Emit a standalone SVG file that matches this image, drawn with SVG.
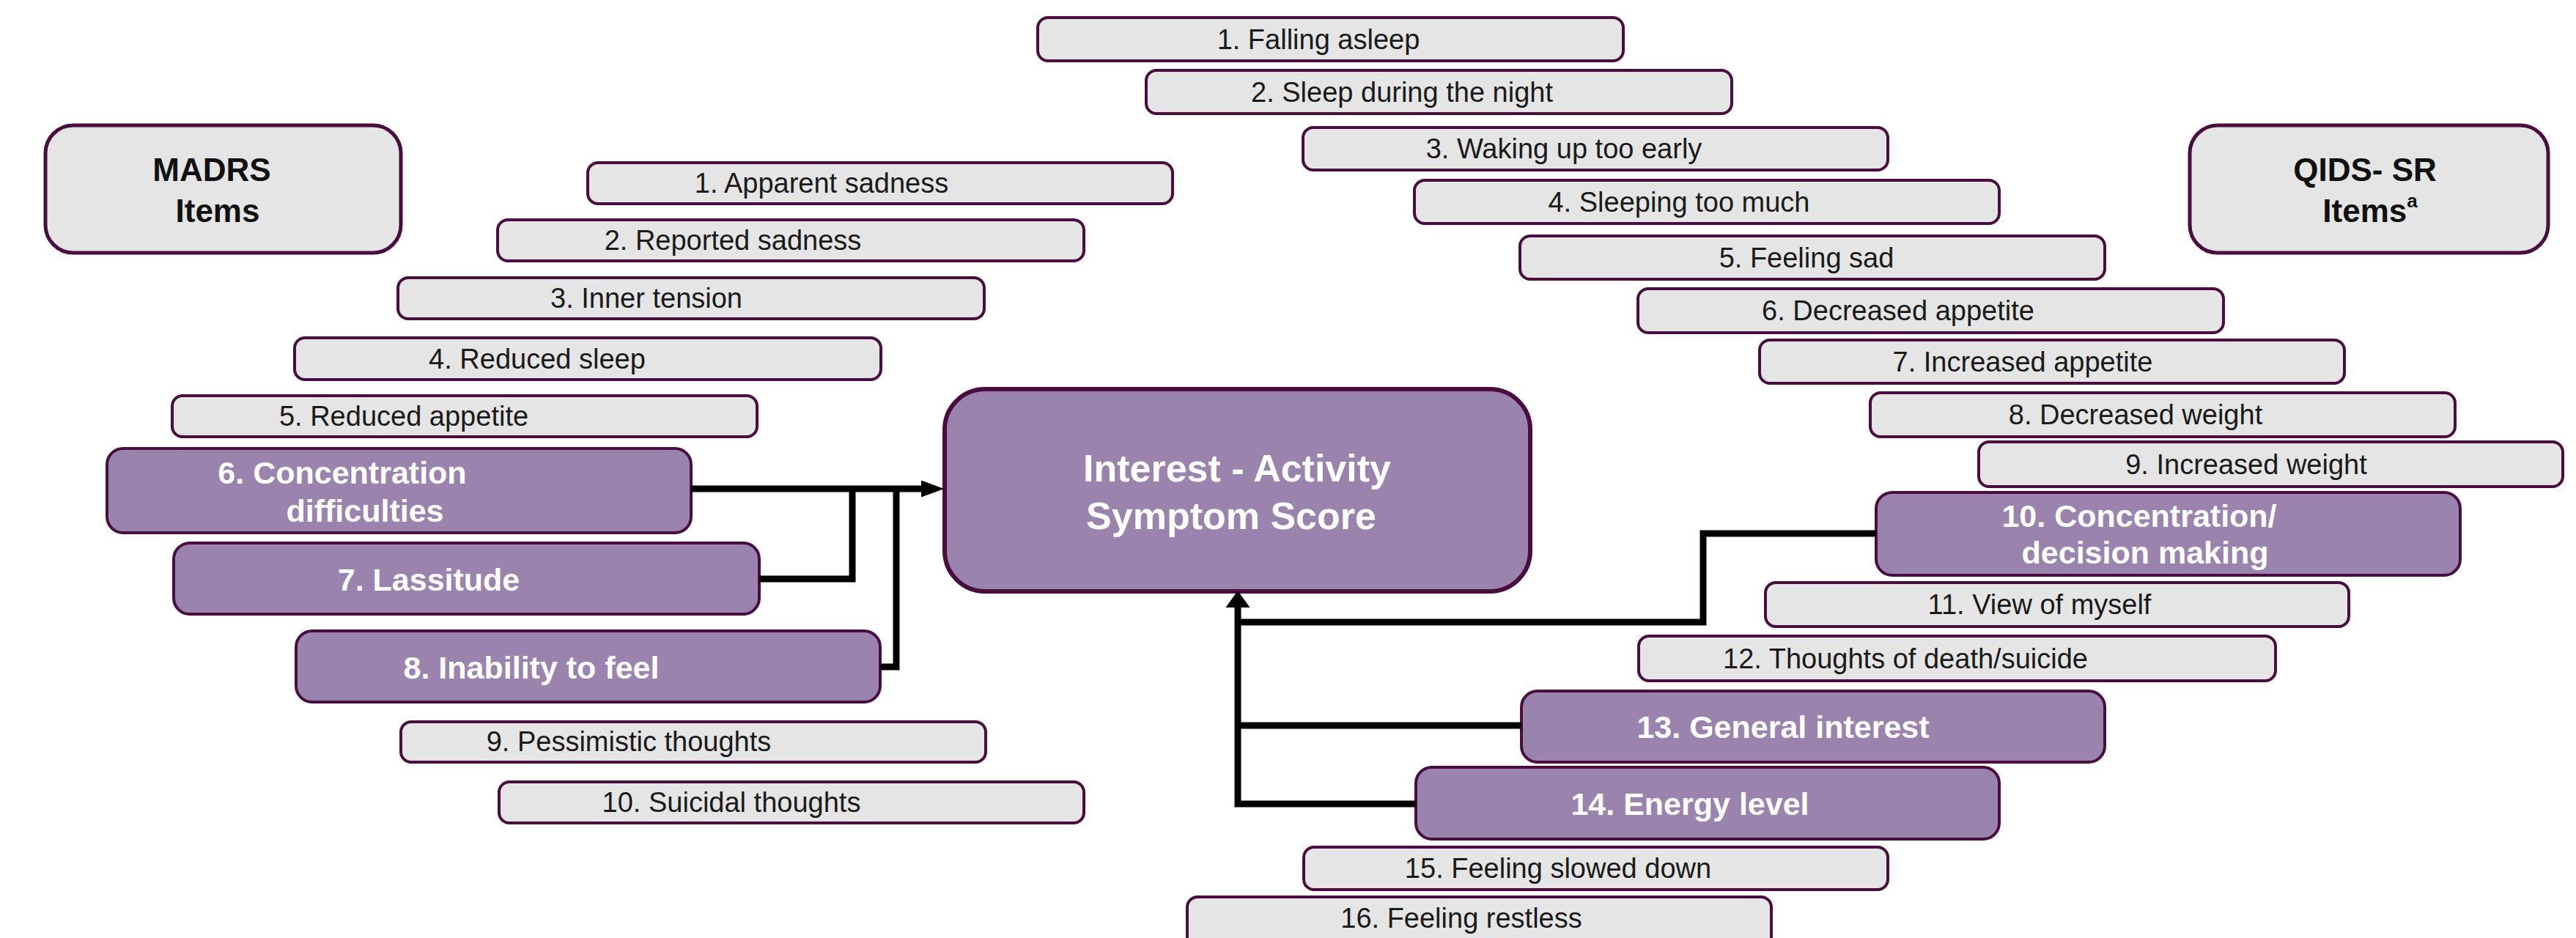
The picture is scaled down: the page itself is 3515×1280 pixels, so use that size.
<svg xmlns="http://www.w3.org/2000/svg" width="3515" height="1280" viewBox="0 0 3515 1280">
<style>
.g rect{fill:#e5e5e5;stroke:#4a0d3f;stroke-width:4}
.g text{font-family:"Liberation Sans",Arial,sans-serif;font-size:38px;fill:#1a1a1a;text-anchor:middle}
.p rect{fill:#9a84ae;stroke:#4a0d3f;stroke-width:4}
.p text{font-family:"Liberation Sans",Arial,sans-serif;font-size:43px;font-weight:bold;fill:#ffffff;text-anchor:middle}
.h rect{fill:#e5e5e5;stroke:#4a0d3f;stroke-width:5}
.h text{font-family:"Liberation Sans",Arial,sans-serif;font-size:44px;font-weight:bold;fill:#111111;text-anchor:middle}
.c rect{fill:#9a84ae;stroke:#4a0d3f;stroke-width:6}
.c text{font-family:"Liberation Sans",Arial,sans-serif;font-size:52px;font-weight:bold;fill:#ffffff;text-anchor:middle}
.conn path{fill:none;stroke:#000000;stroke-width:9;stroke-linejoin:miter}
</style>
<defs>
<marker id="arrR" markerUnits="userSpaceOnUse" markerWidth="31" markerHeight="23" refX="0" refY="11.5" orient="auto" viewBox="0 0 31 23">
<path d="M0,0 L31,11.5 L0,23 z" fill="#000"/>
</marker>
<marker id="arrU" markerUnits="userSpaceOnUse" markerWidth="23" markerHeight="33" refX="0" refY="16.5" orient="auto" viewBox="0 0 23 33">
<path d="M0,0 L23,16.5 L0,33 z" fill="#000"/>
</marker>
</defs>

<g id="madrs-header" class="h">
<rect x="62" y="171" width="485" height="174" rx="38"/>
<text x="289" y="247">MADRS</text>
<text x="297" y="303">Items</text>
</g>
<g id="qids-header" class="h">
<rect x="2988" y="171" width="489" height="174" rx="38"/>
<text x="3227" y="247">QIDS- SR</text>
<text x="3234" y="303">Items<tspan font-size="26" dy="-20">a</tspan></text>
</g>

<g id="central" class="c">
<rect x="1289" y="531" width="799" height="276" rx="55"/>
<text x="1688" y="657">Interest - Activity</text>
<text x="1680" y="722">Symptom Score</text>
</g>

<g id="madrs-1" class="g"><rect x="802" y="222" width="798" height="56" rx="14"/><text x="1121" y="263">1. Apparent sadness</text></g>
<g id="madrs-2" class="g"><rect x="679" y="300" width="800" height="56" rx="14"/><text x="1000" y="341">2. Reported sadness</text></g>
<g id="madrs-3" class="g"><rect x="543" y="379" width="800" height="56" rx="14"/><text x="882" y="420">3. Inner tension</text></g>
<g id="madrs-4" class="g"><rect x="402" y="461" width="800" height="57" rx="14"/><text x="733" y="503">4. Reduced sleep</text></g>
<g id="madrs-5" class="g"><rect x="235" y="540" width="798" height="56" rx="14"/><text x="551" y="581">5. Reduced appetite</text></g>
<g id="madrs-6" class="p"><rect x="146" y="612" width="797" height="115" rx="22"/><text x="467" y="660">6. Concentration</text><text x="498" y="712">difficulties</text></g>
<g id="madrs-7" class="p"><rect x="237" y="741" width="799" height="97" rx="22"/><text x="585" y="806">7. Lassitude</text></g>
<g id="madrs-8" class="p"><rect x="404" y="861" width="797" height="97" rx="22"/><text x="725" y="926">8. Inability to feel</text></g>
<g id="madrs-9" class="g"><rect x="547" y="985" width="798" height="55" rx="14"/><text x="858" y="1025">9. Pessimistic thoughts</text></g>
<g id="madrs-10" class="g"><rect x="681" y="1067" width="798" height="56" rx="14"/><text x="998" y="1108">10. Suicidal thoughts</text></g>

<g id="qids-1" class="g"><rect x="1416" y="24" width="799" height="59" rx="14"/><text x="1799" y="67">1. Falling asleep</text></g>
<g id="qids-2" class="g"><rect x="1564" y="96" width="799" height="59" rx="14"/><text x="1913" y="139">2. Sleep during the night</text></g>
<g id="qids-3" class="g"><rect x="1778" y="174" width="798" height="58" rx="14"/><text x="2134" y="216">3. Waking up too early</text></g>
<g id="qids-4" class="g"><rect x="1930" y="246" width="798" height="59" rx="14"/><text x="2291" y="289">4. Sleeping too much</text></g>
<g id="qids-5" class="g"><rect x="2074" y="322" width="798" height="59" rx="14"/><text x="2465" y="365">5. Feeling sad</text></g>
<g id="qids-6" class="g"><rect x="2235" y="394" width="799" height="60" rx="14"/><text x="2590" y="437">6. Decreased appetite</text></g>
<g id="qids-7" class="g"><rect x="2401" y="464" width="798" height="59" rx="14"/><text x="2760" y="507">7. Increased appetite</text></g>
<g id="qids-8" class="g"><rect x="2552" y="536" width="798" height="60" rx="14"/><text x="2914" y="579">8. Decreased weight</text></g>
<g id="qids-9" class="g"><rect x="2700" y="603" width="797" height="61" rx="14"/><text x="3065" y="647">9. Increased weight</text></g>
<g id="qids-10" class="p"><rect x="2560" y="672" width="797" height="113" rx="22"/><text x="2919" y="719">10. Concentration/</text><text x="2927" y="769">decision making</text></g>
<g id="qids-11" class="g"><rect x="2409" y="795" width="796" height="60" rx="14"/><text x="2783" y="838">11. View of myself</text></g>
<g id="qids-12" class="g"><rect x="2236" y="868" width="869" height="61" rx="14"/><text x="2600" y="912">12. Thoughts of death/suicide</text></g>
<g id="qids-13" class="p"><rect x="2076" y="943" width="796" height="97" rx="22"/><text x="2433" y="1007">13. General interest</text></g>
<g id="qids-14" class="p"><rect x="1932" y="1047" width="796" height="98" rx="22"/><text x="2306" y="1112">14. Energy level</text></g>
<g id="qids-15" class="g"><rect x="1779" y="1156" width="797" height="58" rx="14"/><text x="2126" y="1198">15. Feeling slowed down</text></g>
<g id="qids-16" class="g"><rect x="1620" y="1224" width="797" height="70" rx="14"/><text x="1994" y="1266">16. Feeling restless</text></g>

<g id="connectors" class="conn">
<path d="M943,667 H1257" marker-end="url(#arrR)"/>
<path d="M1036,790 H1163 V667"/>
<path d="M1201,910 H1223 V667"/>
<path d="M1932,1097 H1689 V829" marker-end="url(#arrU)"/>
<path d="M2076,990 H1689"/>
<path d="M2560,728 H2324 V849 H1689"/>
</g>
</svg>
